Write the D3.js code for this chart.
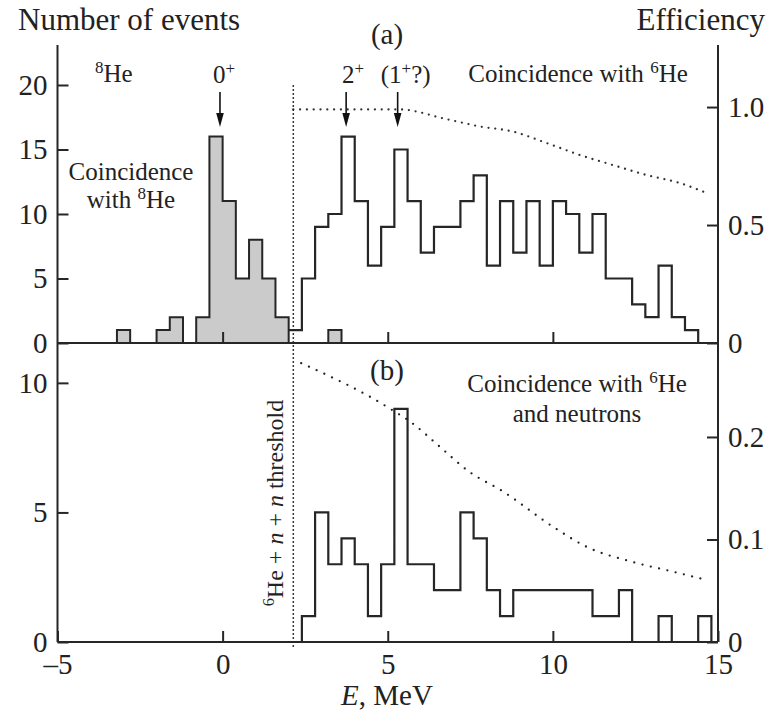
<!DOCTYPE html>
<html>
<head>
<meta charset="utf-8">
<script src="https://cdn.jsdelivr.net/npm/d3@7"></script>
<style>
  html, body { margin: 0; padding: 0; background: #fff; }
  svg { display: block; }
  text { font-family: "Liberation Serif", "Times New Roman", serif; fill: #222; }
</style>
</head>
<body>
<svg id="chart" width="771" height="714"></svg>
<script>
// ---------- data ----------
const binWidth = 0.4;                 // MeV
const thresholdE = 2.14;              // 6He + n + n threshold, MeV

// (a) coincidence with 8He (gray), bins starting at -3.2 MeV
const he8Start = -3.2;
const he8Counts = [1, 0, 0, 1, 2, 0, 2, 16, 11, 5, 8, 5, 2, 0, 0, 0, 1];

// (a) coincidence with 6He, bins starting at 2.0 MeV
const he6Start = 2.0;
const he6Counts = [1, 5, 9, 10, 16, 11, 6, 9, 15, 11, 7, 9, 9, 11, 13, 6, 11, 7, 11, 6,
                   11, 10, 7, 10, 5, 5, 3, 2, 6, 2, 1];

// (b) coincidence with 6He and neutrons, bins starting at 2.0 MeV
const nStart = 2.0;
const nCounts = [0, 1, 5, 3, 4, 3, 1, 3, 9, 3, 3, 2, 2, 5, 4, 2, 1, 2, 2, 2,
                 2, 2, 2, 1, 1, 2, 0, 0, 1, 0, 0, 1];

// efficiency curves (dotted)
const effAE = [2.14, 5.35, 6.77, 7.78, 8.79, 9.8, 10.81, 11.82, 12.83, 13.84, 14.65];
const effAV = [0.99, 0.99, 0.949, 0.918, 0.896, 0.848, 0.797, 0.754, 0.712, 0.678, 0.636];
const effBE = [2.38, 5.05, 5.76, 6.52, 7.47, 8.48, 10.0, 11.01, 12.42, 13.64, 14.65];
const effBV = [0.272, 0.228, 0.213, 0.192, 0.166, 0.147, 0.1125, 0.093, 0.078, 0.0686, 0.0605];

// state markers (arrows)
const stateE = [-0.08, 3.74, 5.3];

// ticks
const xTicks = [-5, 0, 5, 10, 15];
const xTickLabels = ["\u20135", "0", "5", "10", "15"];
const yTicksA = [0, 5, 10, 15, 20];
const yTicksB = [0, 5, 10];
const effTicksA = [0, 0.5, 1.0];
const effTickLabelsA = ["0", "0.5", "1.0"];
const effTicksB = [0, 0.1, 0.2];
const effTickLabelsB = ["0", "0.1", "0.2"];

// ---------- layout ----------
const svg = d3.select("#chart");
const L = 57.5, R = 718;
const topA = 45, baseA = 343, baseB = 642;
const ink = "#262626";

const x = d3.scaleLinear().domain([-5, 15]).range([L, R]);
const yA = d3.scaleLinear().domain([0, 23.1]).range([baseA, topA]);
const effA = d3.scaleLinear().domain([0, 1.263]).range([baseA, topA]);
const yB = d3.scaleLinear().domain([0, 11.5]).range([baseB, baseA + 1]);
const effB = d3.scaleLinear().domain([0, 0.2907]).range([baseB, baseA + 1]);

function bins(start, counts) {
  const pts = counts.map((c, i) => ({ e: start + i * binWidth, c }));
  pts.push({ e: start + counts.length * binWidth, c: 0 });
  return pts;
}

// ---------- histograms ----------
const he8 = bins(he8Start, he8Counts);
svg.append("path")
  .attr("d", d3.area().curve(d3.curveStepAfter)
    .x(d => x(d.e)).y0(yA(0)).y1(d => yA(d.c))(he8))
  .attr("fill", "#cbcbcb");
svg.append("path")
  .attr("d", d3.line().curve(d3.curveStepAfter)
    .x(d => x(d.e)).y(d => yA(d.c))([{ e: he8Start, c: 0 }, ...he8]))
  .attr("fill", "none").attr("stroke", ink).attr("stroke-width", 2);

const he6 = bins(he6Start, he6Counts);
svg.append("path")
  .attr("d", d3.line().curve(d3.curveStepAfter)
    .x(d => x(d.e)).y(d => yA(d.c))(he6))
  .attr("fill", "none").attr("stroke", ink).attr("stroke-width", 2.2);

const nn = bins(nStart, nCounts);
svg.append("path")
  .attr("d", d3.line().curve(d3.curveStepAfter)
    .x(d => x(d.e)).y(d => yB(d.c))(nn))
  .attr("fill", "none").attr("stroke", ink).attr("stroke-width", 2.2);

// ---------- efficiency dotted curves ----------
svg.append("path")
  .attr("d", d3.line().curve(d3.curveMonotoneX)
    .x((d, i) => x(effAE[i])).y(d => effA(d))(effAV))
  .attr("fill", "none").attr("stroke", "#333").attr("stroke-width", 2.3)
  .attr("stroke-linecap", "round").attr("stroke-dasharray", "0,6.8");
svg.append("path")
  .attr("d", d3.line().curve(d3.curveMonotoneX)
    .x((d, i) => x(effBE[i])).y(d => effB(d))(effBV))
  .attr("fill", "none").attr("stroke", "#222").attr("stroke-width", 2.3)
  .attr("stroke-linecap", "round").attr("stroke-dasharray", "0,8.5");

// threshold vertical dotted line
svg.append("line")
  .attr("x1", x(thresholdE)).attr("x2", x(thresholdE))
  .attr("y1", 86).attr("y2", 650)
  .attr("stroke", "#222").attr("stroke-width", 1.8)
  .attr("stroke-linecap", "round").attr("stroke-dasharray", "0,4");

// ---------- axes ----------
function styleAxis(g, size) {
  g.attr("color", ink);
  g.selectAll("path.domain").remove();
  g.selectAll(".tick line").attr("stroke-width", 2);
  g.selectAll("text").attr("font-family", "Liberation Serif, serif")
    .attr("font-size", size).attr("fill", "#222");
}

svg.append("g").attr("transform", `translate(${L},0)`)
  .call(d3.axisLeft(yA).tickValues(yTicksA).tickSizeInner(-11).tickSizeOuter(0).tickPadding(10))
  .call(g => styleAxis(g, 29));
svg.append("g").attr("transform", `translate(${L},0)`)
  .call(d3.axisLeft(yB).tickValues(yTicksB).tickSizeInner(-11).tickSizeOuter(0).tickPadding(10))
  .call(g => styleAxis(g, 29));
svg.append("g").attr("transform", `translate(${R},0)`)
  .call(d3.axisRight(effA).tickValues(effTicksA).tickFormat((d, i) => effTickLabelsA[i])
    .tickSizeInner(-11).tickSizeOuter(0).tickPadding(10))
  .call(g => styleAxis(g, 29));
svg.append("g").attr("transform", `translate(${R},0)`)
  .call(d3.axisRight(effB).tickValues(effTicksB).tickFormat((d, i) => effTickLabelsB[i])
    .tickSizeInner(-11).tickSizeOuter(0).tickPadding(10))
  .call(g => styleAxis(g, 29));
svg.append("g").attr("transform", `translate(0,${baseB})`)
  .call(d3.axisBottom(x).tickValues(xTicks).tickFormat((d, i) => xTickLabels[i])
    .tickSizeInner(-11).tickSizeOuter(0).tickPadding(11))
  .call(g => styleAxis(g, 29));
svg.append("g").attr("transform", `translate(0,${baseA})`)
  .call(d3.axisBottom(x).tickValues(xTicks.slice(1, -1)).tickFormat("")
    .tickSizeInner(-11).tickSizeOuter(0))
  .call(g => styleAxis(g, 29));

// frame lines
const frame = svg.append("g").attr("stroke", ink).attr("stroke-width", 2).attr("fill", "none");
frame.append("line").attr("x1", L).attr("x2", L).attr("y1", topA).attr("y2", baseB);
frame.append("line").attr("x1", R).attr("x2", R).attr("y1", topA).attr("y2", baseB);
frame.append("line").attr("x1", L).attr("x2", R).attr("y1", baseA).attr("y2", baseA);
frame.append("line").attr("x1", L).attr("x2", R).attr("y1", baseB).attr("y2", baseB);

// ---------- arrows ----------
const arrowTop = 92, arrowTip = 127;
stateE.forEach(e => {
  const ax = x(e);
  svg.append("line").attr("x1", ax).attr("x2", ax).attr("y1", arrowTop).attr("y2", arrowTip - 10)
    .attr("stroke", "#111").attr("stroke-width", 1.6);
  svg.append("path")
    .attr("d", `M${ax - 3.8},${arrowTip - 14} L${ax + 3.8},${arrowTip - 14} L${ax},${arrowTip} Z`)
    .attr("fill", "#111");
});

// ---------- text ----------
function rich(xp, yp, parts, size, anchor, extra) {
  const t = svg.append("text").attr("x", xp).attr("y", yp)
    .attr("font-size", size).attr("text-anchor", anchor || "start");
  if (extra) extra(t);
  let pendingDy = 0;
  parts.forEach(p => {
    const [s, kind] = Array.isArray(p) ? p : [p, null];
    const sp = t.append("tspan").text(s);
    if (kind === "sup") {
      sp.attr("dy", pendingDy - size * 0.38).attr("font-size", size * 0.68);
      pendingDy = size * 0.38;
    } else {
      if (pendingDy) sp.attr("dy", pendingDy);
      pendingDy = 0;
      if (kind === "i") sp.attr("font-style", "italic");
    }
  });
  return t;
}

rich(18, 30, ["Number of events"], 31, "start");
rich(765, 30, ["Efficiency"], 31, "end");
rich(387, 44, ["(a)"], 29, "middle");
rich(95, 82, [["8", "sup"], "He"], 25, "start");
rich(x(stateE[0]) + 4, 83, ["0", ["+", "sup"]], 25, "middle");
rich(x(stateE[1]) + 7, 83, ["2", ["+", "sup"]], 25, "middle");
rich(x(stateE[2]) + 8, 83, ["(1", ["+", "sup"], "?)"], 25, "middle");
rich(578, 82, ["Coincidence with ", ["6", "sup"], "He"], 25, "middle");
rich(131, 180, ["Coincidence"], 25, "middle");
rich(131, 208, ["with ", ["8", "sup"], "He"], 25, "middle");
rich(387, 380, ["(b)"], 29, "middle");
rich(577, 392, ["Coincidence with ", ["6", "sup"], "He"], 25, "middle");
rich(577, 422, ["and neutrons"], 25, "middle");
rich(0, 0, [["6", "sup"], "He + ", ["n", "i"], " + ", ["n", "i"], " threshold"], 24, "middle",
  t => t.attr("transform", `translate(283,503) rotate(-90)`));
rich(387, 705, [["E", "i"], ", MeV"], 29, "middle");
</script>
</body>
</html>
